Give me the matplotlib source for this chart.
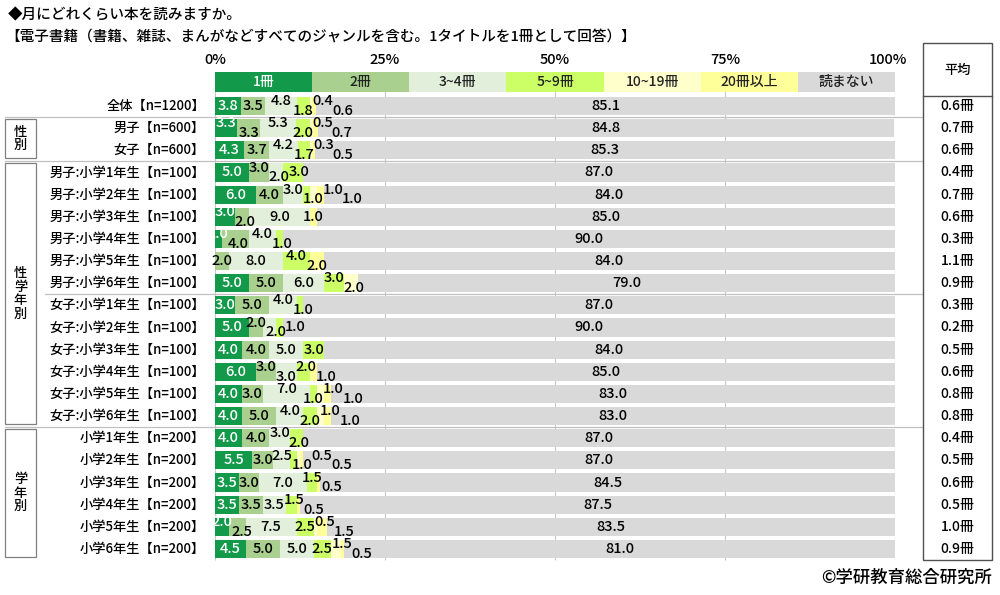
import numpy as np
import matplotlib
matplotlib.use('Agg')
import matplotlib.pyplot as plt
from matplotlib.patches import Rectangle
from matplotlib.transforms import blended_transform_factory

plt.rcParams['font.family'] = ['Noto Sans CJK JP', 'DejaVu Sans']
plt.rcParams['font.weight'] = 'medium'

# ---- data ----
rows = ['全体【n=1200】', '男子【n=600】', '女子【n=600】',
        '男子:小学1年生【n=100】', '男子:小学2年生【n=100】', '男子:小学3年生【n=100】',
        '男子:小学4年生【n=100】', '男子:小学5年生【n=100】', '男子:小学6年生【n=100】',
        '女子:小学1年生【n=100】', '女子:小学2年生【n=100】', '女子:小学3年生【n=100】',
        '女子:小学4年生【n=100】', '女子:小学5年生【n=100】', '女子:小学6年生【n=100】',
        '小学1年生【n=200】', '小学2年生【n=200】', '小学3年生【n=200】',
        '小学4年生【n=200】', '小学5年生【n=200】', '小学6年生【n=200】']
categories = ['1冊', '2冊', '3~4冊', '5~9冊', '10~19冊', '20冊以上', '読まない']

one_book   = [3.8, 3.3, 4.3, 5.0, 6.0, 3.0, 1.0, 0.0, 5.0, 3.0, 5.0, 4.0, 6.0, 4.0, 4.0, 4.0, 5.5, 3.5, 3.5, 2.0, 4.5]
two_books  = [3.5, 3.3, 3.7, 3.0, 4.0, 2.0, 4.0, 2.0, 5.0, 5.0, 2.0, 4.0, 3.0, 3.0, 5.0, 4.0, 3.0, 3.0, 3.5, 2.5, 5.0]
three_four = [4.8, 5.3, 4.2, 2.0, 3.0, 9.0, 4.0, 8.0, 6.0, 4.0, 2.0, 5.0, 3.0, 7.0, 4.0, 3.0, 2.5, 7.0, 3.5, 7.5, 5.0]
five_nine  = [1.8, 2.0, 1.7, 3.0, 1.0, 0.0, 1.0, 4.0, 3.0, 1.0, 1.0, 3.0, 2.0, 1.0, 2.0, 2.0, 1.0, 1.5, 1.5, 2.5, 2.5]
ten_19     = [0.4, 0.5, 0.3, 0.0, 1.0, 0.0, 0.0, 0.0, 2.0, 0.0, 0.0, 0.0, 0.0, 1.0, 1.0, 0.0, 0.5, 0.0, 0.0, 0.5, 1.5]
over_20    = [0.6, 0.7, 0.5, 0.0, 1.0, 1.0, 0.0, 2.0, 0.0, 0.0, 0.0, 0.0, 1.0, 1.0, 1.0, 0.0, 0.5, 0.5, 0.5, 1.5, 0.5]
no_read    = [85.1, 84.8, 85.3, 87.0, 84.0, 85.0, 90.0, 84.0, 79.0, 87.0, 90.0, 84.0, 85.0, 83.0, 83.0,
              87.0, 87.0, 84.5, 87.5, 83.5, 81.0]
average    = [0.6, 0.7, 0.6, 0.4, 0.7, 0.6, 0.3, 1.1, 0.9, 0.3, 0.2, 0.5, 0.6, 0.8, 0.8, 0.4, 0.5, 0.6, 0.5, 1.0, 0.9]

groups = [('性\n別', 0.5, 2.5), ('性\n学\n年\n別', 2.5, 14.5), ('学\n年\n別', 14.5, 20.5)]

# label nudges (u = up, d = down) for small segments, in order of non-zero segments
label_shift = ['00udud', 'ududud', '00udud', '0ud0', '00udud', 'ud00', 'udud', '00ud', '000ud',
               '00ud', '0ud0', '0000', '0udud', '00udud', '00udud', '00ud', '00udud', '000ud',
               '000ud', 'ud00ud', '0000ud']

colors = ['#13994a', '#a9d08e', '#e2efda', '#ccff66', '#ffffcc', '#ffff99', '#d9d9d9']

# ---- layout ----
W, H = 1000, 595
ROW, Y0 = 22.15, 106


def prow(pix):
    return (pix - Y0) / ROW


fig = plt.figure(figsize=(10, 5.95), dpi=100)
x0, x1 = 215, 895
ytop, ybot = 66, 563
ax = fig.add_axes([x0 / W, 1 - ybot / H, (x1 - x0) / W, (ybot - ytop) / H])
ax.set_xlim(0, 100)
ax.set_ylim(prow(ybot), prow(ytop))
ax.axis('off')
trans = blended_transform_factory(fig.transFigure, ax.transData)

series = [one_book, two_books, three_four, five_nine, ten_19, over_20, no_read]
vals = np.array(series).T
n = len(rows)
ypos = np.arange(n)

# grid
ax.vlines([0, 25, 50, 75, 100], -1.53, n - 0.5, color='#c8c8c8', lw=0.8, zorder=0)
for v in [0, 25, 50, 75, 100]:
    ax.text(v - (1 if v == 100 else 0), prow(60), f'{v}%', ha='center', va='center', fontsize=10.5)

# legend bar
leg_y = prow(82)
seg = 100 / len(categories)
ax.barh([leg_y] * 7, [seg] * 7, left=np.arange(7) * seg, height=0.9, color=colors, zorder=2)
for j, c in enumerate(categories):
    ax.text((j + 0.5) * seg, leg_y, c, ha='center', va='center', fontsize=10,
            color='white' if j == 0 else '#222222', zorder=3)

# bars
left = np.zeros(n)
for j, s in enumerate(series):
    ax.barh(ypos, s, left=left, height=0.82, color=colors[j], zorder=2)
    left += np.array(s)

# value labels
LW = 2.9
for i in range(n):
    cum = 0.0
    prev_right = -100
    k = 0
    for j in range(6):
        v = vals[i, j]
        if v > 0:
            x = max(cum + v / 2, prev_right + LW / 2)
            prev_right = x + LW / 2
            dy = {'0': 0.0, 'u': -0.22, 'd': 0.22}[label_shift[i][k]]
            k += 1
            ax.text(x, i + dy, f'{v:.1f}', ha='center', va='center', fontsize=10.5,
                    color='white' if j == 0 else 'black', zorder=4)
        cum += v
    ax.text(cum + vals[i, 6] / 2, i, f'{vals[i, 6]:.1f}', ha='center', va='center',
            fontsize=10.5, zorder=4)

# row labels
for i, r in enumerate(rows):
    ax.text(205 / W, i, r, transform=trans, ha='right', va='center', fontsize=9.5)

# separators
for b, xs in [(0.5, 5), (2.5, 5), (8.5, 45), (14.5, 5)]:
    ax.plot([xs / W, 922 / W], [b, b], transform=trans, color='#c0c0c0', lw=0.9,
            clip_on=False, zorder=1)

# group boxes
for g, t, b in groups:
    top, bot = t + 0.08, b - 0.15
    ax.add_patch(Rectangle((5 / W, top), 31 / W, bot - top, transform=trans, fill=False,
                           edgecolor='#808080', lw=0.9, clip_on=False))
    ax.text(20.5 / W, (top + bot) / 2, g, transform=trans, ha='center', va='center',
            fontsize=9.5, linespacing=0.95)

# average column
box = Rectangle((923 / W, 1 - 560 / H), 69 / W, (560 - 43) / H, transform=fig.transFigure,
                fill=False, edgecolor='#505050', lw=1.0)
fig.add_artist(box)
fig.add_artist(plt.Line2D([923 / W, 992 / W], [1 - 96 / H, 1 - 96 / H],
                          transform=fig.transFigure, color='#505050', lw=1.0))
fig.text(957.5 / W, 1 - 70 / H, '平均', ha='center', va='center', fontsize=9.5)
for i, a in enumerate(average):
    ax.text(957.5 / W, i, f'{a:.1f}冊', transform=trans, ha='center', va='center', fontsize=10)

# titles
fig.text(8 / W, 1 - 15 / H, '◆月にどれくらい本を読みますか。', ha='left', va='center', fontsize=10.5)
fig.text(5 / W, 1 - 37 / H, '【電子書籍（書籍、雑誌、まんがなどすべてのジャンルを含む。1タイトルを1冊として回答）】',
         ha='left', va='center', fontsize=10.5)
fig.text(992 / W, 1 - 578 / H, '©学研教育総合研究所', ha='right', va='center', fontsize=12.5)

fig.savefig('out.png', dpi=100, facecolor='white')
